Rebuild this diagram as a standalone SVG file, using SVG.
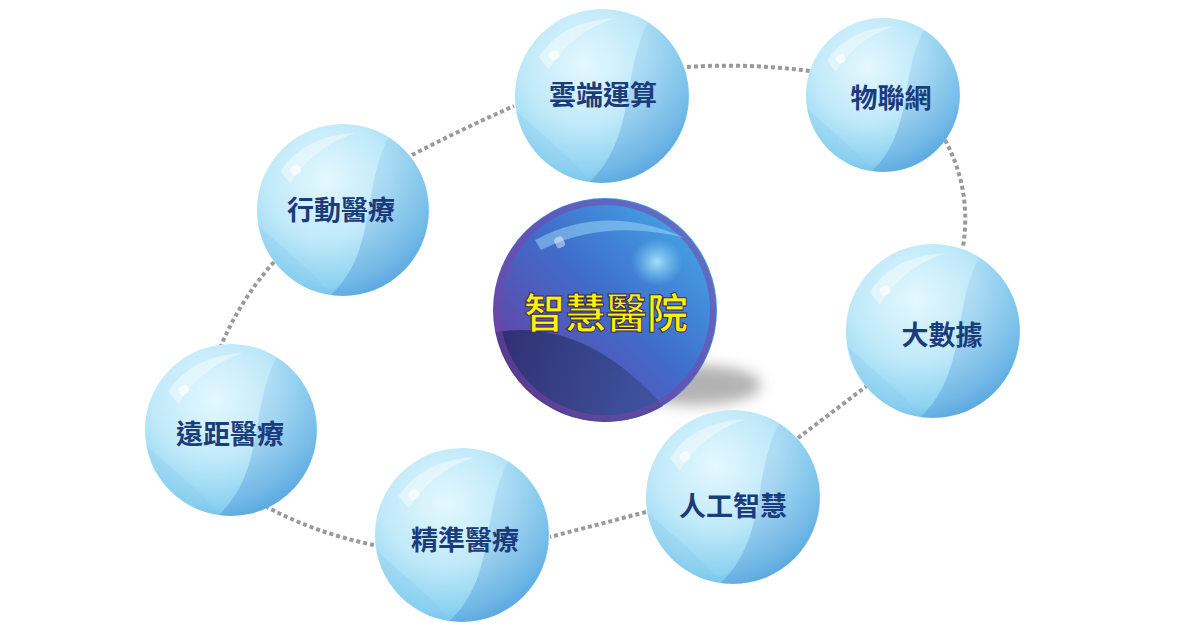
<svg xmlns="http://www.w3.org/2000/svg" width="1200" height="630" viewBox="0 0 1200 630">
<defs>
<radialGradient id="bb" cx="0.4" cy="0.32" r="0.72">
<stop offset="0" stop-color="#e4f8fe"/>
<stop offset="0.5" stop-color="#bfe9f9"/>
<stop offset="0.85" stop-color="#8dd2f1"/>
<stop offset="1" stop-color="#6cbde9"/>
</radialGradient>
<linearGradient id="bcres" x1="0" y1="0" x2="0.3" y2="1">
<stop offset="0" stop-color="#5aa8e0" stop-opacity="0.08"/>
<stop offset="1" stop-color="#3f86d0" stop-opacity="0.4"/>
</linearGradient>
<linearGradient id="cb" x1="0.9" y1="0.1" x2="0.1" y2="0.9">
<stop offset="0" stop-color="#45a6e6"/>
<stop offset="0.45" stop-color="#3f6ecc"/>
<stop offset="1" stop-color="#6a3c9e"/>
</linearGradient>
<radialGradient id="cspot" cx="0.5" cy="0.5" r="0.5">
<stop offset="0" stop-color="#a8e4fb" stop-opacity="0.95"/>
<stop offset="1" stop-color="#7fd0f5" stop-opacity="0"/>
</radialGradient>
<linearGradient id="cdark" x1="0" y1="0" x2="1" y2="0.3">
<stop offset="0" stop-color="#262a66"/>
<stop offset="1" stop-color="#3a4f96"/>
</linearGradient>
<filter id="blur" x="-50%" y="-50%" width="200%" height="200%"><feGaussianBlur stdDeviation="7"/></filter>
<g id="bubble">
<circle r="85" fill="url(#bb)"/>
<path d="M45,-72 C18,-20 34,40 -12,84 A85,85 0 0,0 45,-72 Z" fill="url(#bcres)"/>
<path d="M-84,15 C-50,45 -20,70 -12,84 A85,85 0 0,1 -84,15 Z" fill="#7cc2ea" opacity="0.2"/>
<path d="M-62,-38 Q-38,-74 12,-76 Q-30,-62 -52,-26 Z" fill="#ffffff" opacity="0.4"/>
<rect x="-52" y="-44" width="10" height="9" rx="3" fill="#ffffff" opacity="0.65" transform="rotate(-30 -47 -40)"/>
</g>
</defs>
<style>
.dot{fill:none;stroke:#9a9a9a;stroke-width:4;stroke-dasharray:4 3}
.lbl{font-family:"Noto Sans CJK TC","Noto Sans CJK SC",sans-serif;font-weight:700;font-size:27px;fill:#1b3c7a;text-anchor:middle;dominant-baseline:central}
.ctr{font-family:"Noto Sans CJK TC","Noto Sans CJK SC",sans-serif;font-weight:700;font-size:41px;fill:#fff200;stroke:#3a2a5a;stroke-width:1;text-anchor:middle;dominant-baseline:central}
</style>
<rect width="1200" height="630" fill="#ffffff"/>
<g id="connectors">
<path class="dot" d="M412,155 Q462,129 514,106"/>
<path class="dot" d="M687,67 Q748,63 810,71"/>
<path class="dot" d="M945,140 Q972,190 963,247"/>
<path class="dot" d="M868,385 L798,438"/>
<path class="dot" d="M646,512 L550,537"/>
<path class="dot" d="M374,545 Q315,533 267,507"/>
<path class="dot" d="M274,262 Q240,300 220,348"/>
</g>
<g id="node-center">
<ellipse cx="695" cy="385" rx="66" ry="20" fill="#9a9a9a" opacity="0.75" filter="url(#blur)"/>
<circle cx="605" cy="310" r="112" fill="url(#cb)"/>
<path d="M-109,22 Q-20,8 58,96 A112,112 0 0,1 -109,22 Z" transform="translate(605 310)" fill="url(#cdark)" opacity="0.85"/>
<circle cx="605" cy="310" r="108" fill="none" stroke="#7a44a8" stroke-width="6" opacity="0.55"/>
<path d="M-70,-70 Q0,-108 80,-72 Q0,-92 -64,-60 Z" transform="translate(605 310)" fill="#9fdcf8" opacity="0.5"/>
<ellipse cx="657" cy="262" rx="26" ry="24" fill="url(#cspot)"/>
<rect x="555" y="237" width="9" height="11" rx="3" fill="#ffffff" opacity="0.45" transform="rotate(-25 559 242)"/>
<text class="ctr" x="606" y="310">智慧醫院</text>
</g>
<g id="node-cloud">
<use href="#bubble" transform="translate(602 96) scale(1.024)"/>
<text class="lbl" x="603" y="93">雲端運算</text>
</g>
<g id="node-iot">
<use href="#bubble" transform="translate(883 95) scale(0.906)"/>
<text class="lbl" x="891" y="96">物聯網</text>
</g>
<g id="node-mobile">
<use href="#bubble" transform="translate(343 210) scale(1.012)"/>
<text class="lbl" x="341" y="208">行動醫療</text>
</g>
<g id="node-bigdata">
<use href="#bubble" transform="translate(933 331) scale(1.024)"/>
<text class="lbl" x="942" y="333">大數據</text>
</g>
<g id="node-remote">
<use href="#bubble" transform="translate(231 430) scale(1.012)"/>
<text class="lbl" x="230" y="432">遠距醫療</text>
</g>
<g id="node-precision">
<use href="#bubble" transform="translate(462 535) scale(1.024)"/>
<text class="lbl" x="465" y="538">精準醫療</text>
</g>
<g id="node-ai">
<use href="#bubble" transform="translate(733 497) scale(1.024)"/>
<text class="lbl" x="733" y="504">人工智慧</text>
</g>
</svg>
